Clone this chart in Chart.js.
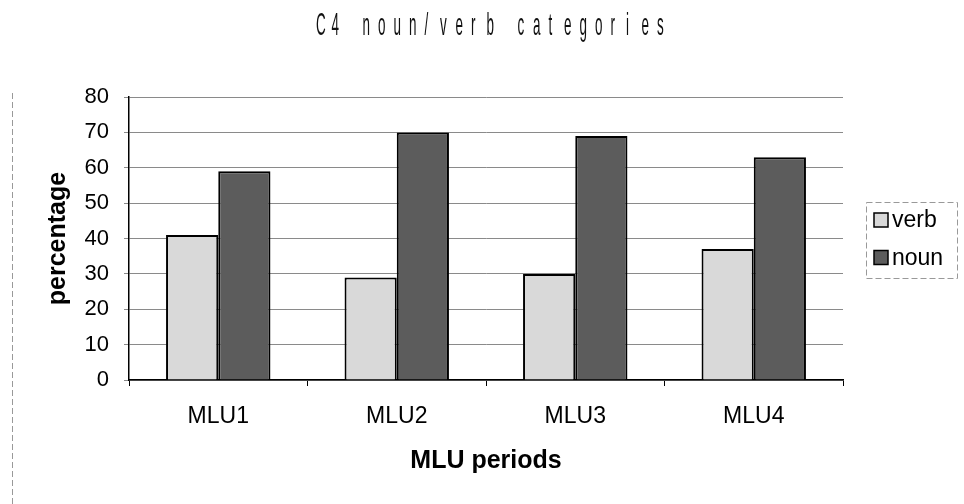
<!DOCTYPE html>
<html>
<head>
<meta charset="utf-8">
<script src="https://cdn.jsdelivr.net/npm/chart.js@4"></script>
<style>
  html, body { margin: 0; padding: 0; background: #fff; }
  #wrap { width: 964px; height: 504px; position: relative; }
</style>
</head>
<body>
<div id="wrap"><canvas id="barChart"></canvas></div>
<script>
const chartTitle = 'C4 noun/verb categories';
const categories = ['MLU1', 'MLU2', 'MLU3', 'MLU4'];
const seriesNames = ['verb', 'noun'];
const verbValues = [41, 29, 30, 37];
const nounValues = [59, 70, 69, 63];
const yTicks = [0, 10, 20, 30, 40, 50, 60, 70, 80];

const FONT = "'Liberation Sans', Arial, sans-serif";

// condensed, widely spaced title like the original
const titlePlugin = {
    id: 'spacedTitle',
    afterDraw(chart) {
        const ctx = chart.ctx;
        ctx.save();
        ctx.fillStyle = '#111';
        ctx.font = `32px ${FONT}`;
        ctx.textBaseline = 'alphabetic';
        const startX = 316, step = 15.5, baseY = 35;
        [...chartTitle].forEach((ch, i) => {
            if (ch === ' ') return;
            ctx.save();
            ctx.translate(startX + i * step, baseY);
            ctx.scale(0.42, 1);
            ctx.fillText(ch, 0, 0);
            ctx.restore();
        });
        ctx.restore();
    }
};

// boxed legend on the right + faint outer frame line
const boxLegend = {
    id: 'boxLegend',
    afterDraw(chart) {
        const ctx = chart.ctx;
        ctx.save();
        ctx.strokeStyle = '#999';
        ctx.lineWidth = 1;
        ctx.setLineDash([6, 3]);
        ctx.strokeRect(866.5, 202.5, 91, 76);
        ctx.beginPath();
        ctx.moveTo(12.5, 93);
        ctx.lineTo(12.5, 504);
        ctx.stroke();
        ctx.setLineDash([]);
        ctx.font = `23px ${FONT}`;
        ctx.textBaseline = 'middle';
        chart.data.datasets.forEach((ds, i) => {
            const cy = 220 + i * 37.5;
            ctx.fillStyle = ds.backgroundColor;
            ctx.fillRect(874, cy - 7, 14, 14);
            ctx.strokeStyle = '#000';
            ctx.lineWidth = 1.5;
            ctx.strokeRect(874, cy - 7, 14, 14);
            ctx.fillStyle = '#000';
            ctx.fillText(ds.label, 892, cy + 1);
        });
        ctx.restore();
    }
};

const ctx = document.getElementById('barChart').getContext('2d');
new Chart(ctx, {
    type: 'bar',
    data: {
        labels: categories,
        datasets: [{
            label: seriesNames[0],
            data: verbValues,
            backgroundColor: '#d9d9d9',
            borderColor: '#000',
            borderWidth: 2
        }, {
            label: seriesNames[1],
            data: nounValues,
            backgroundColor: '#5c5c5c',
            borderColor: '#000',
            borderWidth: 2
        }]
    },
    options: {
        responsive: true,
        maintainAspectRatio: false,
        animation: false,
        layout: { padding: { left: 40, right: 121, top: 97, bottom: 24 } },
        datasets: {
            bar: { categoryPercentage: 0.585, barPercentage: 1 }
        },
        plugins: {
            legend: { display: false },
            title: { display: false },
            tooltip: { enabled: false }
        },
        scales: {
            x: {
                afterFit: (s) => { s.height = 100; },
                grid: {
                    offset: true,
                    drawOnChartArea: false,
                    color: '#000',
                    tickLength: 6
                },
                border: { color: '#000', width: 1.5 },
                ticks: {
                    color: '#000',
                    padding: 17,
                    font: { family: FONT, size: 23 }
                },
                title: {
                    display: true,
                    text: 'MLU periods',
                    color: '#000',
                    padding: { top: 0, bottom: 4 },
                    font: { family: FONT, size: 25, weight: 'bold' }
                }
            },
            y: {
                min: yTicks[0],
                max: yTicks[yTicks.length - 1],
                afterFit: (s) => { s.width = 89; },
                afterBuildTicks: (s) => { s.ticks = yTicks.map(v => ({ value: v })); },
                grid: {
                    color: '#8a8a8a',
                    tickLength: 5
                },
                border: { color: '#000', width: 1.5 },
                ticks: {
                    color: '#000',
                    padding: 15,
                    font: { family: FONT, size: 22 }
                },
                title: {
                    display: true,
                    text: 'percentage',
                    color: '#000',
                    padding: { top: 3, bottom: 0 },
                    font: { family: FONT, size: 25, weight: 'bold' }
                }
            }
        }
    },
    plugins: [titlePlugin, boxLegend]
});
</script>
</body>
</html>
